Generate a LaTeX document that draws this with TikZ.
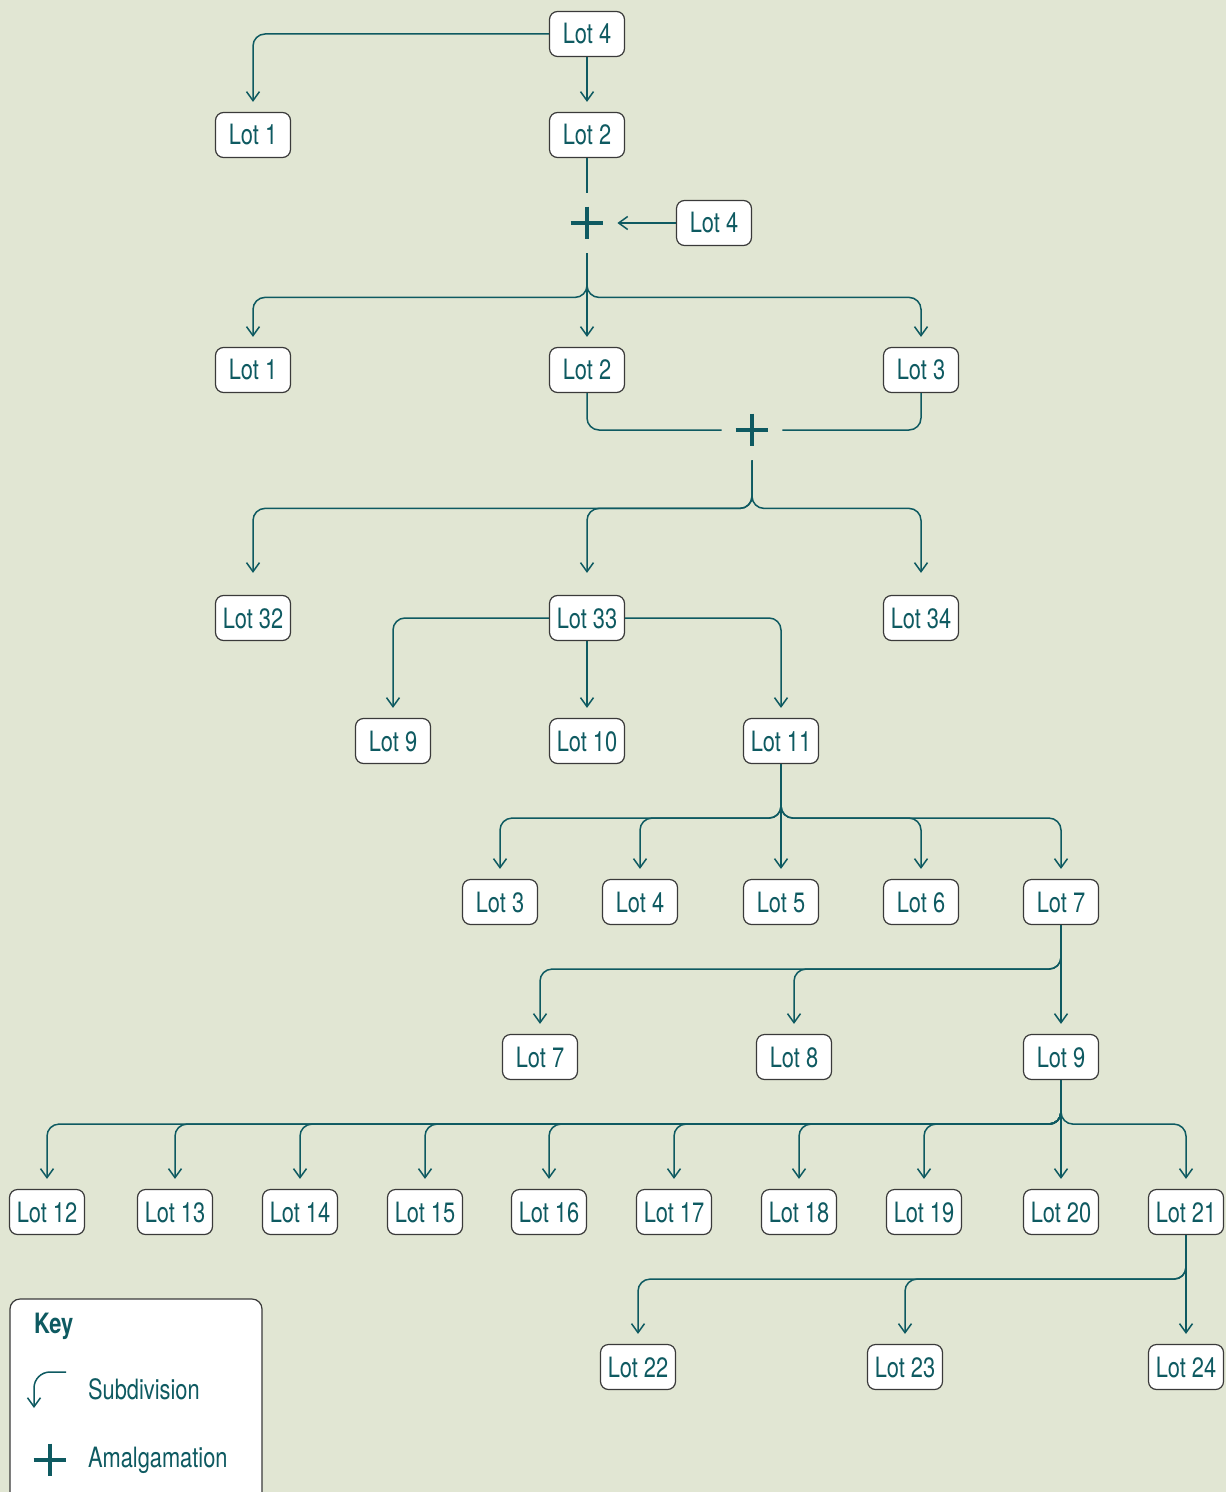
\documentclass[tikz,border=0pt]{standalone}
\usepackage{fontspec}
\setmainfont{TeX Gyre Heros}[FakeStretch=0.78]
\usetikzlibrary{arrows.meta}
\definecolor{bgc}{HTML}{E1E6D3}
\definecolor{teal}{HTML}{0E5A61}
\definecolor{edge}{HTML}{3A3A3A}
\tikzset{
  lot/.style={draw=edge, fill=white, line width=0.6pt, rounded corners=4pt,
    minimum width=37.5pt, minimum height=22.5pt, inner sep=0pt,
    text=teal, font=\fontsize{14}{16}\selectfont},
  sub/.style={draw=teal, line width=0.75pt, rounded corners=6pt, ->, shorten >=5pt},
  link/.style={draw=teal, line width=0.75pt, rounded corners=6pt},
  plus/.style={minimum size=16pt, inner sep=0pt},
  plusline/.style={draw=teal, line width=1.8pt},
}
\begin{document}
\begin{tikzpicture}[x=0.5pt,y=-0.5pt,>={Straight Barb[length=4.5pt,width=6.5pt]}]
\useasboundingbox[fill=bgc] (0,0) rectangle (1226,1492);
% first subdivision
\node[lot] (t4) at (587,34) {Lot 4};
\node[lot] (s1) at (253,135) {Lot 1};
\node[lot] (s2) at (587,135) {Lot 2};
\draw[sub] (t4.west) -| (s1.north);
\draw[sub] (t4.south) -- (s2.north);
% amalgamation with lot 4
\node[plus] (p1) at (587,223) {};
\draw[plusline] (p1.north) -- (p1.south) (p1.west) -- (p1.east);
\node[lot] (a4) at (714,223) {Lot 4};
\draw[link] (s2.south) -- ([yshift=7pt]p1.north);
\draw[sub,shorten >=0pt] (a4.west) -- ([xshift=7pt]p1.east);
\node[lot] (u1) at (253,370) {Lot 1};
\node[lot] (u2) at (587,370) {Lot 2};
\node[lot] (u3) at (921,370) {Lot 3};
\draw[sub] ([yshift=-7pt]p1.south) -- ++(0,44) -| (u1.north);
\draw[sub] ([yshift=-7pt]p1.south) -- (u2.north);
\draw[sub] ([yshift=-7pt]p1.south) -- ++(0,44) -| (u3.north);
% amalgamation of lots 2 and 3
\node[plus] (p2) at (752,430) {};
\draw[plusline] (p2.north) -- (p2.south) (p2.west) -- (p2.east);
\draw[link] (u2.south) |- ([xshift=-7pt]p2.west);
\draw[link] (u3.south) |- ([xshift=7pt]p2.east);
\node[lot] (v32) at (253,618) {Lot 32};
\node[lot] (v33) at (587,618) {Lot 33};
\node[lot] (v34) at (921,618) {Lot 34};
\foreach \n in {32,33,34}
  \draw[sub,shorten >=11pt] ([yshift=-7pt]p2.south) -- ++(0,48) -| (v\n.north);
% lot 33
\node[lot] (w9) at (393,741) {Lot 9};
\node[lot] (w10) at (587,741) {Lot 10};
\node[lot] (w11) at (781,741) {Lot 11};
\draw[sub] (v33.west) -| (w9.north);
\draw[sub] (v33.south) -- (w10.north);
\draw[sub] (v33.east) -| (w11.north);
% lot 11
\foreach \n/\x in {3/500,4/640,5/781,6/921,7/1061}
  \node[lot] (x\n) at (\x,902) {Lot \n};
\foreach \n in {3,4,6,7}
  \draw[sub] (w11.south) -- ++(0,54) -| (x\n.north);
\draw[sub] (w11.south) -- (x5.north);
% lot 7
\node[lot] (y7) at (540,1057) {Lot 7};
\node[lot] (y8) at (794,1057) {Lot 8};
\node[lot] (y9) at (1061,1057) {Lot 9};
\foreach \n in {7,8}
  \draw[sub] (x7.south) -- ++(0,44) -| (y\n.north);
\draw[sub] (x7.south) -- (y9.north);
% lot 9
\foreach \n/\x in {12/47,13/175,14/300,15/425,16/549,17/674,18/799,19/924,20/1061,21/1186}
  \node[lot] (z\n) at (\x,1212) {Lot \n};
\foreach \n in {12,...,19,21}
  \draw[sub] (y9.south) -- ++(0,44) -| (z\n.north);
\draw[sub] (y9.south) -- (z20.north);
% lot 21
\node[lot] (q22) at (638,1367) {Lot 22};
\node[lot] (q23) at (905,1367) {Lot 23};
\node[lot] (q24) at (1186,1367) {Lot 24};
\foreach \n in {22,23}
  \draw[sub] (z21.south) -- ++(0,44) -| (q\n.north);
\draw[sub] (z21.south) -- (q24.north);
% key
\draw[draw=edge, fill=white, line width=0.6pt, rounded corners=5pt] (10,1299) rectangle (262,1520);
\node[anchor=west, text=teal, font=\fontsize{14}{16}\selectfont\bfseries] (key) at (27,1326) {Key};
\draw[sub, shorten >=0pt, rounded corners=8pt] (66,1372) -| (34,1408);
\node[anchor=west, text=teal, font=\fontsize{14}{16}\selectfont] (ksub) at (81,1389) {Subdivision};
\node[plus] (kp) at (50,1460) {};
\draw[plusline] (kp.north) -- (kp.south) (kp.west) -- (kp.east);
\node[anchor=west, text=teal, font=\fontsize{14}{16}\selectfont] (kam) at (81,1460) {Amalgamation};
\end{tikzpicture}
\end{document}
